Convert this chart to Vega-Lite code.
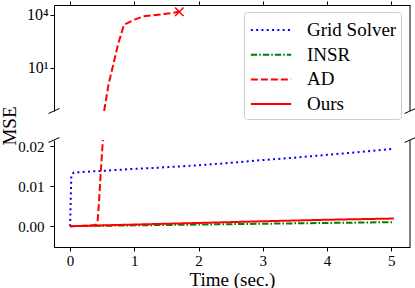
{
  "$schema": "https://vega.github.io/schema/vega-lite/v6.json",
  "background": "white",
  "padding": 0,
  "width": 356,
  "height": 242,
  "config": {
    "font": "Liberation Serif",
    "view": {"stroke": null},
    "axis": {
      "domainColor": "black", "tickColor": "black", "labelColor": "black", "titleColor": "black",
      "grid": false, "labelFont": "Liberation Serif", "titleFont": "Liberation Serif",
      "labelFontSize": 15, "titleFontSize": 19, "titleFontWeight": "normal",
      "tickSize": 4, "domainWidth": 1, "tickWidth": 1
    }
  },
  "datasets": {
    "mse": [
      {"method": "Grid Solver", "t": 0, "mse": 0},
      {"method": "Grid Solver", "t": 0.02, "mse": 0.0128},
      {"method": "Grid Solver", "t": 0.06, "mse": 0.0134},
      {"method": "Grid Solver", "t": 0.5, "mse": 0.0138},
      {"method": "Grid Solver", "t": 1, "mse": 0.0143},
      {"method": "Grid Solver", "t": 1.5, "mse": 0.0147},
      {"method": "Grid Solver", "t": 2, "mse": 0.0152},
      {"method": "Grid Solver", "t": 2.5, "mse": 0.0158},
      {"method": "Grid Solver", "t": 3, "mse": 0.0165},
      {"method": "Grid Solver", "t": 3.5, "mse": 0.0171},
      {"method": "Grid Solver", "t": 4, "mse": 0.0178},
      {"method": "Grid Solver", "t": 4.5, "mse": 0.0185},
      {"method": "Grid Solver", "t": 5.04, "mse": 0.0193},
      {"method": "INSR", "t": 0, "mse": 0},
      {"method": "INSR", "t": 1, "mse": 0.0002},
      {"method": "INSR", "t": 2, "mse": 0.0004},
      {"method": "INSR", "t": 3, "mse": 0.0006},
      {"method": "INSR", "t": 4, "mse": 0.0008},
      {"method": "INSR", "t": 5.04, "mse": 0.001},
      {"method": "AD", "t": 0, "mse": 0},
      {"method": "AD", "t": 0.2, "mse": 0.00005},
      {"method": "AD", "t": 0.4, "mse": 0.0003},
      {"method": "AD", "t": 0.43, "mse": 0.0015},
      {"method": "AD", "t": 0.45, "mse": 0.006},
      {"method": "AD", "t": 0.48, "mse": 0.014},
      {"method": "AD", "t": 0.51, "mse": 0.0215},
      {"method": "AD", "t": 0.53, "mse": 0.036},
      {"method": "AD", "t": 0.6, "mse": 1.2},
      {"method": "AD", "t": 0.68, "mse": 20},
      {"method": "AD", "t": 0.75, "mse": 230},
      {"method": "AD", "t": 0.84, "mse": 2700},
      {"method": "AD", "t": 1.0, "mse": 5200},
      {"method": "AD", "t": 1.15, "mse": 8000},
      {"method": "AD", "t": 1.46, "mse": 10700},
      {"method": "AD", "t": 1.7, "mse": 14400},
      {"method": "Ours", "t": 0, "mse": 0},
      {"method": "Ours", "t": 1, "mse": 0.0004},
      {"method": "Ours", "t": 2, "mse": 0.0008},
      {"method": "Ours", "t": 3, "mse": 0.00122},
      {"method": "Ours", "t": 4, "mse": 0.0016},
      {"method": "Ours", "t": 5.04, "mse": 0.0019}
    ]
  },
  "layer": [
    {
      "layer": [
        {
          "data": {"name": "mse"},
          "transform": [{"filter": "datum.method == 'AD' && datum.mse >= 0.036"}],
          "mark": {"type": "line", "clip": true, "strokeWidth": 2},
          "encoding": {
            "x": {"field": "t", "type": "quantitative", "scale": {"domain": [-0.25, 5.29], "nice": false},
                  "axis": {"orient": "top", "values": [0, 1, 2, 3, 4, 5], "labels": false, "title": null}},
            "y": {"field": "mse", "type": "quantitative", "scale": {"type": "log", "domain": [0.036, 35000], "range": [106, 0], "nice": false},
                  "axis": {"orient": "left", "values": [10, 10000], "labelExpr": "datum.value == 10 ? '10¹' : '10⁴'", "title": null, "labelPadding": 2, "labelFontSize": 16, "labelFont": "Liberation Serif"}},
            "color": {"field": "method", "type": "nominal", "scale": {"domain": ["Grid Solver", "INSR", "AD", "Ours"], "range": ["#0000ff", "#008000", "#ff0000", "#ff0000"]},
                      "legend": {
                        "orient": "none", "legendX": 190, "legendY": 7, "title": null,
                        "labelFont": "Liberation Serif", "labelFontSize": 19, "labelColor": "black", "labelAlign": "left",
                        "symbolType": "M-1.55,0L1.55,0", "symbolSize": 676, "symbolStrokeWidth": 2, "symbolFillColor": "transparent",
                        "padding": 4, "fillColor": "white", "strokeColor": "#cccccc", "cornerRadius": 3,
                        "rowPadding": 0.7, "labelOffset": 22, "symbolOffset": 9
                      }},
            "strokeDash": {"field": "method", "type": "nominal", "scale": {"domain": ["Grid Solver", "INSR", "AD", "Ours"], "range": [[2, 3.3], [6.4, 2, 1.6, 2], [7, 3], [1, 0]]}}
          }
        },
        {
          "data": {"name": "mse"},
          "transform": [{"filter": "datum.method == 'AD' && datum.t == 1.7"}],
          "mark": {"type": "point", "shape": "M-1,-1L1,1M-1,1L1,-1", "size": 72, "filled": false, "stroke": "#ff0000", "strokeWidth": 1.5, "opacity": 1},
          "encoding": {
            "x": {"field": "t", "type": "quantitative", "scale": {"domain": [-0.25, 5.29], "nice": false}},
            "y": {"field": "mse", "type": "quantitative", "scale": {"type": "log", "domain": [0.036, 35000], "range": [106, 0], "nice": false}}
          }
        },
        {
          "data": {"values": [{}]},
          "mark": {"type": "rule", "color": "black", "strokeWidth": 1},
          "encoding": {
            "x": {"datum": 5.29, "type": "quantitative", "scale": {"domain": [-0.25, 5.29], "nice": false}},
            "y": {"datum": 0.036, "type": "quantitative", "scale": {"type": "log", "domain": [0.036, 35000], "range": [106, 0], "nice": false}},
            "y2": {"datum": 35000}
          }
        },
        {
          "data": {"values": [{}]},
          "mark": {"type": "point", "shape": "M-1,0.45L1,-0.45", "size": 121, "filled": false, "stroke": "black", "strokeWidth": 1, "opacity": 1, "clip": false},
          "encoding": {
            "x": {"datum": -0.25, "type": "quantitative", "scale": {"domain": [-0.25, 5.29], "nice": false}},
            "y": {"datum": 0.036, "type": "quantitative", "scale": {"type": "log", "domain": [0.036, 35000], "range": [106, 0], "nice": false}}
          }
        },
        {
          "data": {"values": [{}]},
          "mark": {"type": "point", "shape": "M-1,0.45L1,-0.45", "size": 121, "filled": false, "stroke": "black", "strokeWidth": 1, "opacity": 1, "clip": false},
          "encoding": {
            "x": {"datum": 5.29, "type": "quantitative", "scale": {"domain": [-0.25, 5.29], "nice": false}},
            "y": {"datum": 0.036, "type": "quantitative", "scale": {"type": "log", "domain": [0.036, 35000], "range": [106, 0], "nice": false}}
          }
        }
      ]
    },
    {
      "layer": [
        {
          "data": {"name": "mse"},
          "transform": [{"filter": "datum.mse <= 0.0215"}],
          "mark": {"type": "line", "clip": true, "strokeWidth": 2},
          "encoding": {
            "x": {"field": "t", "type": "quantitative", "scale": {"domain": [-0.25, 5.29], "nice": false},
                  "axis": {"orient": "bottom", "values": [0, 1, 2, 3, 4, 5], "format": "d", "title": "Time (sec.)", "labelPadding": 2, "titlePadding": 2, "titleFontWeight": "normal", "titleFont": "Liberation Serif", "labelFont": "Liberation Serif"}},
            "y": {"field": "mse", "type": "quantitative", "scale": {"domain": [-0.0052, 0.0215], "range": [242, 135], "nice": false, "zero": false},
                  "axis": {"orient": "left", "values": [0, 0.01, 0.02], "format": ".2f", "labelPadding": 6, "title": "MSE", "titleX": -39, "titleY": 120.5, "titleBaseline": "alphabetic", "titleAngle": 270, "titleFontWeight": "normal", "titleFont": "Liberation Serif", "labelFont": "Liberation Serif"}},
            "color": {"field": "method", "type": "nominal", "scale": {"domain": ["Grid Solver", "INSR", "AD", "Ours"], "range": ["#0000ff", "#008000", "#ff0000", "#ff0000"]}},
            "strokeDash": {"field": "method", "type": "nominal", "scale": {"domain": ["Grid Solver", "INSR", "AD", "Ours"], "range": [[2, 3.3], [6.4, 2, 1.6, 2], [7, 3], [1, 0]]}}
          }
        },
        {
          "data": {"values": [{}]},
          "mark": {"type": "rule", "color": "black", "strokeWidth": 1},
          "encoding": {
            "x": {"datum": 5.29, "type": "quantitative", "scale": {"domain": [-0.25, 5.29], "nice": false}},
            "y": {"datum": -0.0052, "type": "quantitative", "scale": {"domain": [-0.0052, 0.0215], "range": [242, 135], "nice": false, "zero": false}},
            "y2": {"datum": 0.0215}
          }
        },
        {
          "data": {"values": [{}]},
          "mark": {"type": "point", "shape": "M-1,0.45L1,-0.45", "size": 121, "filled": false, "stroke": "black", "strokeWidth": 1, "opacity": 1, "clip": false},
          "encoding": {
            "x": {"datum": -0.25, "type": "quantitative", "scale": {"domain": [-0.25, 5.29], "nice": false}},
            "y": {"datum": 0.0215, "type": "quantitative", "scale": {"domain": [-0.0052, 0.0215], "range": [242, 135], "nice": false, "zero": false}}
          }
        },
        {
          "data": {"values": [{}]},
          "mark": {"type": "point", "shape": "M-1,0.45L1,-0.45", "size": 121, "filled": false, "stroke": "black", "strokeWidth": 1, "opacity": 1, "clip": false},
          "encoding": {
            "x": {"datum": 5.29, "type": "quantitative", "scale": {"domain": [-0.25, 5.29], "nice": false}},
            "y": {"datum": 0.0215, "type": "quantitative", "scale": {"domain": [-0.0052, 0.0215], "range": [242, 135], "nice": false, "zero": false}}
          }
        }
      ]
    }
  ],
  "resolve": {"scale": {"y": "independent"}, "axis": {"y": "independent", "x": "independent"}}
}
